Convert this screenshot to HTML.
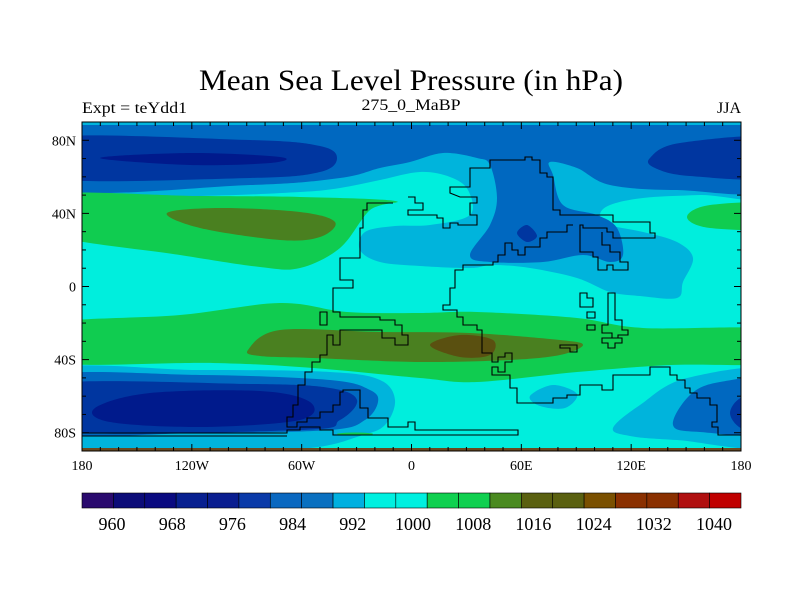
<!DOCTYPE html>
<html><head><meta charset="utf-8">
<style>
html,body{margin:0;padding:0;background:#fff;width:800px;height:600px;overflow:hidden}
svg text{font-family:"Liberation Serif",serif;fill:#000}
</style></head>
<body>
<svg id="chart" width="800" height="600" viewBox="0 0 800 600" xmlns="http://www.w3.org/2000/svg">
<defs><clipPath id="plotclip"><rect x="82" y="122" width="659" height="329"/></clipPath></defs>
<text x="411" y="90" font-size="30" text-anchor="middle" textLength="424" lengthAdjust="spacingAndGlyphs">Mean Sea Level Pressure (in hPa)</text>
<text x="82" y="113" font-size="16" textLength="105" lengthAdjust="spacingAndGlyphs">Expt = teYdd1</text>
<text x="411" y="110" font-size="16" text-anchor="middle" textLength="99" lengthAdjust="spacingAndGlyphs">275_0_MaBP</text>
<text x="741" y="113" font-size="16" text-anchor="end">JJA</text>
<g id="map" clip-path="url(#plotclip)"></g>
<g id="coast" clip-path="url(#plotclip)" fill="none" stroke="#000" stroke-width="1.1"></g>
<rect x="82" y="122" width="659" height="329" fill="none" stroke="#000" stroke-width="1"/>
<g id="axes"></g>
<g id="cbar"></g>
</svg>
<script>
// colorbar data
const cbLevels = [960,968,976,984,992,1000,1008,1016,1024,1032,1040];
const cbColors = ["#2a0a6e","#0c0c78","#0a0a80","#082090","#0a1e90","#0a3aa8","#0a68c0","#0a70c0","#00b0e0","#00f0e0","#00f0e0","#10d050","#10d050","#4a8a20","#5a6010","#5a6010","#7a5000","#8a3000","#8a3000","#b01010","#c00000"];
const xTickLabels = ["180","120W","60W","0","60E","120E","180"];
const xTickLons = [-180,-120,-60,0,60,120,180];
const yTickLabels = ["80N","40N","0","40S","80S"];
const yTickLats = [80,40,0,-40,-80];

const NS="http://www.w3.org/2000/svg";
const X0=82,X1=741,Y0=122,Y1=451;
const lonX=l=>X0+(l+180)/360*(X1-X0);
const latY=l=>Y0+(90-l)/180*(Y1-Y0);
function mk(tag,attrs,parent){const e=document.createElementNS(NS,tag);for(const k in attrs)e.setAttribute(k,attrs[k]);parent.appendChild(e);return e;}
function smooth(p){let d="M"+p[0][0]+","+p[0][1];const n=p.length;
 for(let i=0;i<n;i++){const p0=p[(i-1+n)%n],p1=p[i],p2=p[(i+1)%n],p3=p[(i+2)%n];
  const c1=[p1[0]+(p2[0]-p0[0])/6,p1[1]+(p2[1]-p0[1])/6],c2=[p2[0]-(p3[0]-p1[0])/6,p2[1]-(p3[1]-p1[1])/6];
  d+=`C${c1[0].toFixed(1)},${c1[1].toFixed(1)} ${c2[0].toFixed(1)},${c2[1].toFixed(1)} ${p2[0]},${p2[1]}`;}
 return d+"Z";}
const map=document.getElementById('map');
mk('rect',{x:60,y:100,width:720,height:380,fill:"#00eedd"},map);
const LB="#00b4dc",MB="#0068c0",DB="#0036a0",XB="#001a8c",GR="#10cc50",OL="#4a8020",BR="#5a5010";
const regions=[
 [LB,[[40,100],[780,100],[780,193],[700,195],[643,198],[610,205],[600,215],[610,225],[643,232],[677,242],[693,258],[683,282],[677,298],[640,296],[610,292],[577,278],[530,268],[493,265],[470,268],[420,266],[380,262],[360,250],[365,232],[395,226],[430,225],[470,215],[468,190],[450,177],[420,172],[380,180],[340,188],[300,192],[200,196],[40,197]]],
 [LB,[[40,372],[200,370],[330,372],[380,380],[395,400],[385,425],[360,436],[310,448],[200,452],[40,452]]],
 [LB,[[530,396],[553,385],[577,394],[565,408],[540,406]]],
 [LB,[[613,428],[640,405],[687,378],[780,372],[780,445],[677,440],[630,436]]],
 [MB,[[40,100],[780,100],[780,187],[677,190],[610,185],[577,168],[550,162],[553,175],[563,205],[597,215],[617,228],[623,255],[610,262],[583,255],[543,262],[490,262],[470,255],[490,225],[497,198],[490,165],[477,158],[443,153],[410,162],[380,168],[340,178],[250,185],[40,187]]],
 [MB,[[40,377],[200,375],[330,380],[370,390],[378,402],[365,420],[330,430],[200,433],[40,432]]],
 [MB,[[673,425],[690,395],[720,382],[780,380],[780,432],[700,432]]],
 [DB,[[40,138],[250,140],[320,146],[337,158],[320,172],[250,178],[40,178]]],
 [DB,[[650,158],[680,143],[780,138],[780,177],[690,176],[655,168]]],
 [DB,[[517,233],[527,225],[537,236],[527,242]]],
 [DB,[[40,385],[250,384],[330,388],[357,400],[340,420],[300,430],[40,430]]],
 [DB,[[730,413],[745,396],[780,400],[780,428],[745,430]]],
 [XB,[[100,158],[190,153],[280,157],[270,163],[190,165]]],
 [XB,[[95,408],[150,393],[260,391],[310,402],[300,420],[200,427],[110,422]]],
 [GR,[[40,195],[200,196],[300,197],[395,201],[370,210],[340,248],[300,268],[260,267],[180,255],[40,232]]],
 [GR,[[687,217],[710,205],[780,204],[780,228],[710,228]]],
 [GR,[[40,325],[180,315],[280,303],[347,312],[420,313],[477,312],[577,318],[643,328],[780,330],[780,362],[670,365],[577,372],[477,382],[420,378],[313,368],[213,363],[40,362]]],
 [OL,[[167,213],[220,208],[300,212],[335,222],[320,237],[280,240],[200,228]]],
 [OL,[[248,350],[280,330],[380,332],[470,333],[560,340],[583,345],[560,355],[510,360],[420,362],[313,358],[260,356]]],
 [BR,[[430,345],[460,335],[493,340],[490,355],[460,357]]]
];
regions.forEach(r=>{const e=mk('path',{d:smooth(r[1]),fill:r[0]},map);
 
 });
mk('rect',{x:82,y:122,width:659,height:3,fill:LB},map);
mk('rect',{x:82,y:448,width:659,height:4,fill:"#6a4a20"},map);
mk('ellipse',{cx:355,cy:434,rx:18,ry:1.5,fill:GR},map);

// coastlines (stepped)
const coast=document.getElementById('coast');
const lines=[
 "M393,203 L367,203 L367,210 L363,210 L363,228 L360,228 L360,258 L340,258 L340,280 L353,280 L353,288 L333,288 L333,312 L340,312 L340,317 L380,317 L380,320 L395,320 L395,325 L402,325 L402,335 L408,335 L408,345 L395,345 L395,338 L382,338 L382,330 L340,330 L340,345 L333,345 L333,335 L327,335 L327,355 L320,355 L320,362 L312,362 L312,372 L305,372 L305,385 L298,385 L298,405 L293,405 L293,417 L287,417 L287,427 L297,427 L297,422 L307,422 L307,418 L320,418 L320,412 L333,412 L333,405 L340,405 L340,392 L343,392 L343,390 L360,390 L360,408 L368,408 L368,418 L388,418 L388,427 L408,427 L408,422 L415,422 L415,430 L518,430 L518,435 L333,435 L333,430 L320,430 L320,427 L300,427 L300,430 L287,430 L287,433 L82,433",
 "M82,436 L287,436",
 "M408,197 L415,197 L415,203 L423,203 L423,210 L408,210 L408,215 L437,215 L437,218 L443,218 L443,228 L450,228 L450,223 L458,223 L458,225 L477,225 L477,215 L470,215 L470,203 L477,203 L477,197 L460,197 L450,193 L450,187 L470,187 L470,168 L490,168 L490,160 L525,160 L525,157 L532,157 L532,160 L540,160 L540,173 L547,173 L547,177 L553,177 L553,210 L560,210 L560,215 L613,215 L613,222 L650,222 L650,233 L655,233 L655,238 L613,238 L613,232 L607,232 L607,228 L583,228 L583,225 L580,225 L580,252 L593,252 L593,257 L598,257 L598,270 L607,270 L607,265 L613,265 L613,270 L628,270 L628,262 L620,262 L620,252 L610,252 L610,245 L602,245 L602,232",
 "M573,225 L567,225 L567,232 L547,232 L547,238 L540,238 L540,247 L525,247 L525,255 L518,255 L518,250 L512,250 L512,243 L505,243 L505,255 L498,255 L498,262 L493,262 L493,265 L463,265 L463,270 L455,270 L455,288 L450,288 L450,305 L443,305 L443,310 L457,310 L457,317 L463,317 L463,325 L477,325 L477,330 L482,330 L482,353 L492,353 L492,362 L498,362 L498,357 L505,357 L505,353 L512,353 L512,362 L505,362 L505,372 L498,372 L498,367 L492,367 L492,375 L510,375 L510,388 L517,388 L517,403 L553,403 L553,398 L567,398 L567,395 L580,395 L580,385 L602,385 L602,390 L613,390 L613,375 L650,375 L650,367 L670,367 L670,375 L677,375 L677,380 L685,380 L685,388 L690,388 L690,393 L697,393 L697,398 L710,398 L710,405 L717,405 L717,422 L712,422 L712,427 L718,427 L718,435 L742,435",
 "M580,293 L587,293 L587,298 L593,298 L593,307 L580,307 Z",
 "M587,312 L595,312 L595,318 L587,318 Z",
 "M587,325 L595,325 L595,330 L587,330 Z",
 "M608,293 L615,293 L615,320 L622,320 L622,330 L628,330 L628,335 L618,335 L618,338 L612,338 L612,333 L602,333 L602,325 L608,325 Z",
 "M602,338 L622,338 L622,343 L615,343 L615,348 L608,348 L608,343 L602,343 Z",
 "M320,312 L327,312 L327,325 L320,325 Z",
 "M560,345 L577,345 L577,352 L570,352 L570,348 L560,348 Z"
];
lines.forEach(d=>{const e=mk('path',{d:d},coast);
 
 });

// axes
const ax=document.getElementById('axes');
for(let l=-180;l<=180;l+=10){const x=lonX(l),len=(l%60===0)?7:4;
 mk('line',{x1:x,y1:Y0,x2:x,y2:Y0+len,stroke:"#000","stroke-width":1},ax);
 mk('line',{x1:x,y1:Y1,x2:x,y2:Y1-len,stroke:"#000","stroke-width":1},ax);}
for(let l=-90;l<=90;l+=10){const y=latY(l),len=(l%40===0&&Math.abs(l)<=80)?7:4;
 mk('line',{x1:X0,y1:y,x2:X0+len,y2:y,stroke:"#000","stroke-width":1},ax);
 mk('line',{x1:X1,y1:y,x2:X1-len,y2:y,stroke:"#000","stroke-width":1},ax);}
xTickLons.forEach((l,i)=>{const t=mk('text',{x:lonX(l),y:470,"font-size":14,"text-anchor":"middle"},ax);t.textContent=xTickLabels[i];
 
 });
yTickLats.forEach((l,i)=>{const t=mk('text',{x:76,y:latY(l)+5,"font-size":14,"text-anchor":"end"},ax);t.textContent=yTickLabels[i];
 
 });

// colorbar
const cb=document.getElementById('cbar');
const cx0=82,cx1=741,cy=493,ch=15,bw=(cx1-cx0)/cbColors.length;
cbColors.forEach((c,i)=>{const r=mk('rect',{x:cx0+i*bw,y:cy,width:bw,height:ch,fill:c,stroke:"#000","stroke-width":0.6},cb);
 
 });
const lx0=112,lx1=714;
cbLevels.forEach((v,i)=>{const t=mk('text',{x:lx0+i*(lx1-lx0)/(cbLevels.length-1),y:530,"font-size":18,"text-anchor":"middle"},cb);t.textContent=v;
 
 });
</script>
</body></html>
